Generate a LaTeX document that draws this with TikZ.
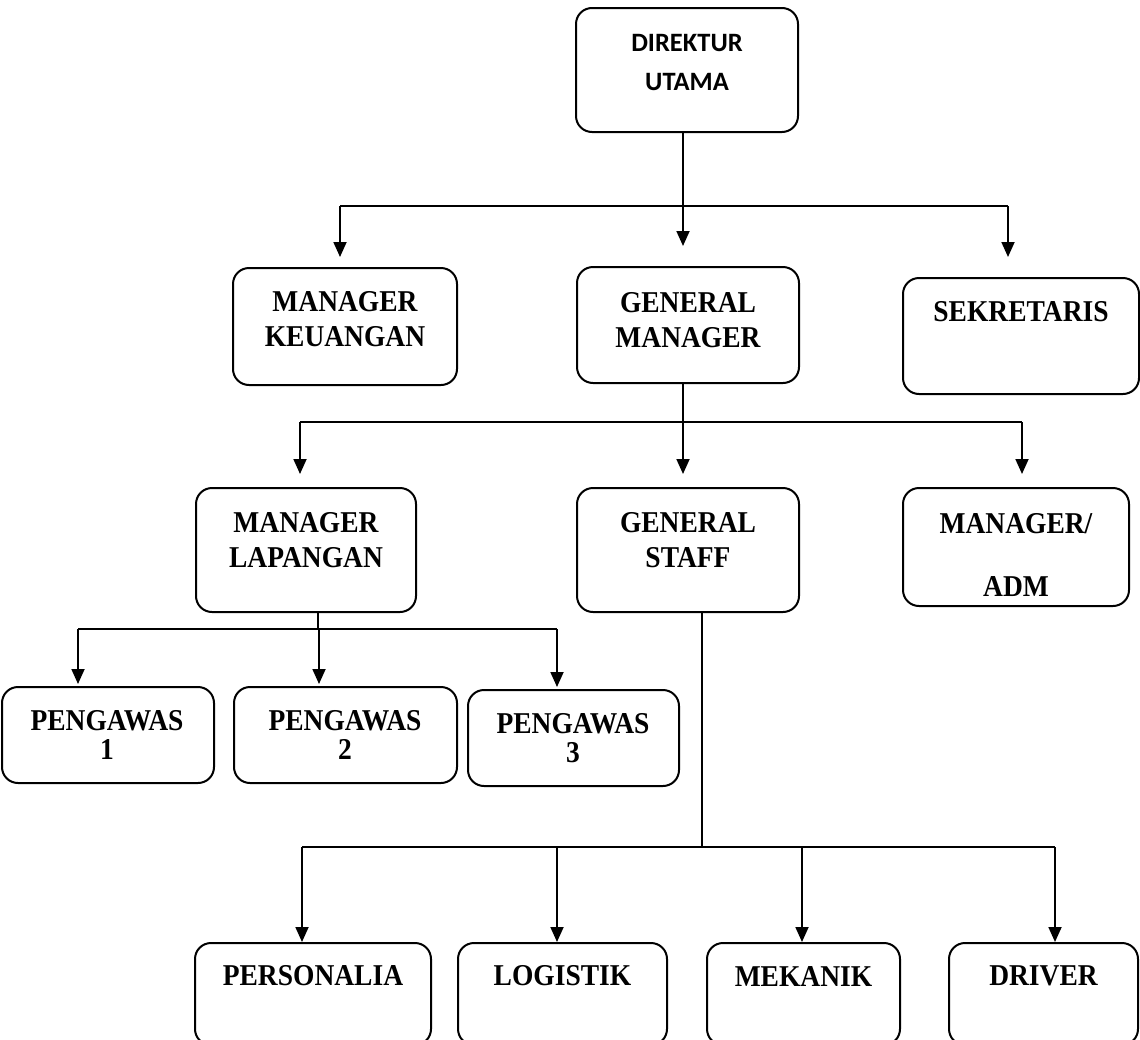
\documentclass[tikz,border=0pt]{standalone}
\usepackage{fontspec}
\setmainfont{Liberation Serif}
\newfontfamily\calibfont{Carlito}
\usetikzlibrary{arrows.meta}

\begin{document}
\begin{tikzpicture}[
		x=1pt, y=-1pt,
		box/.style 2 args={draw, line width=2pt, rounded corners=16pt, minimum width=#1pt, minimum height=#2pt, inner sep=0pt},
		txt/.style={font=\fontsize{27.5}{32}\selectfont\bfseries, align=center, inner sep=0pt, yscale=1.1, transform shape},
		dirtxt/.style={font=\calibfont\fontsize{26.5}{39}\selectfont\bfseries, align=center, inner sep=0pt},
		line/.style={line width=1.8pt},
		arrow/.style={line width=1.8pt, -{Triangle[length=15pt,width=13pt]}}
		]
		\useasboundingbox (0,0) rectangle (1140,1039);
		\clip (0,0) rectangle (1140,1039);
		% level 0
		\node[box={222}{124}] (dir) at (687,70) {};
		\node[dirtxt] (dir-t) at (687,62.5) {DIREKTUR\\UTAMA};
		% level 1
		\node[box={224}{117}] (keu) at (345,326.5) {};
		\node[txt] (keu-t) at (345,319.5) {MANAGER\\KEUANGAN};
		\node[box={222}{116}] (gm) at (688,325) {};
		\node[txt] (gm-t) at (688,320.5) {GENERAL\\MANAGER};
		\node[box={236}{116}] (sek) at (1021,336) {};
		\node[txt] (sek-t) at (1021,312) {SEKRETARIS};
		% level 2
		\node[box={220}{124}] (lap) at (306,550) {};
		\node[txt] (lap-t) at (306,540) {MANAGER\\LAPANGAN};
		\node[box={222}{124}] (gs) at (688,550) {};
		\node[txt] (gs-t) at (688,540) {GENERAL\\STAFF};
		\node[box={226}{118}] (adm) at (1016,547) {};
		\node[txt] (adm-t) at (1016,555) {MANAGER/\\[26pt]ADM};
		% pengawas
		\node[box={212}{96}] (p1) at (108,735) {};
		\node[txt] (p1-t) at (107,735) {PENGAWAS\\[-5pt]1};
		\node[box={223}{96}] (p2) at (345.5,735) {};
		\node[txt] (p2-t) at (345,735) {PENGAWAS\\[-5pt]2};
		\node[box={211}{96}] (p3) at (573.5,738) {};
		\node[txt] (p3-t) at (573,738) {PENGAWAS\\[-5pt]3};
		% staff
		\node[box={236}{102}] (per) at (313,994) {};
		\node[txt] (per-t) at (313,976) {PERSONALIA};
		\node[box={209}{102}] (log) at (562.5,994) {};
		\node[txt] (log-t) at (562.5,976) {LOGISTIK};
		\node[box={193}{102}] (mek) at (803.5,994) {};
		\node[txt] (mek-t) at (803.5,976) {MEKANIK};
		\node[box={189}{102}] (drv) at (1043.5,994) {};
		\node[txt] (drv-t) at (1043.5,976) {DRIVER};
		% bus lines
		\coordinate (bus1) at (0,206);
		\coordinate (bus2) at (0,422);
		\coordinate (bus3) at (0,629);
		\coordinate (bus4) at (0,847);
		% direktur -> level 1
		\draw[arrow, shorten >=20pt] ([xshift=-4pt]dir.south) -- ([xshift=-4pt]dir.south |- gm.north);
		\draw[line] ([xshift=-5pt]keu.north |- bus1) -- ([xshift=-13pt]sek.north |- bus1);
		\draw[arrow, shorten >=10pt] ([xshift=-5pt]keu.north |- bus1) -- ([xshift=-5pt]keu.north);
		\draw[arrow, shorten >=20pt] ([xshift=-13pt]sek.north |- bus1) -- ([xshift=-13pt]sek.north);
		% general manager -> level 2
		\draw[arrow, shorten >=13pt] ([xshift=-5pt]gm.south) -- ([xshift=-5pt]gm.south |- gs.north);
		\draw[line] ([xshift=-6pt]lap.north |- bus2) -- ([xshift=6pt]adm.north |- bus2);
		\draw[arrow, shorten >=13pt] ([xshift=-6pt]lap.north |- bus2) -- ([xshift=-6pt]lap.north);
		\draw[arrow, shorten >=13pt] ([xshift=6pt]adm.north |- bus2) -- ([xshift=6pt]adm.north);
		% manager lapangan -> pengawas
		\draw[line] ([xshift=12pt]lap.south) -- ([xshift=12pt]lap.south |- bus3);
		\draw[line] ([xshift=-30pt]p1.north |- bus3) -- ([xshift=-16.5pt]p3.north |- bus3);
		\draw[arrow, shorten >=2pt] ([xshift=-30pt]p1.north |- bus3) -- ([xshift=-30pt]p1.north);
		\draw[arrow, shorten >=2pt] ([xshift=-26.5pt]p2.north |- bus3) -- ([xshift=-26.5pt]p2.north);
		\draw[arrow, shorten >=2pt] ([xshift=-16.5pt]p3.north |- bus3) -- ([xshift=-16.5pt]p3.north);
		% general staff -> staff
		\draw[line] ([xshift=14pt]gs.south) -- ([xshift=14pt]gs.south |- bus4);
		\draw[line] ([xshift=-11pt]per.north |- bus4) -- ([xshift=11.5pt]drv.north |- bus4);
		\draw[arrow] ([xshift=-11pt]per.north |- bus4) -- ([xshift=-11pt]per.north);
		\draw[arrow] ([xshift=-5.5pt]log.north |- bus4) -- ([xshift=-5.5pt]log.north);
		\draw[arrow] ([xshift=-1.5pt]mek.north |- bus4) -- ([xshift=-1.5pt]mek.north);
		\draw[arrow] ([xshift=11.5pt]drv.north |- bus4) -- ([xshift=11.5pt]drv.north);
		\end{tikzpicture}
\end{document}
